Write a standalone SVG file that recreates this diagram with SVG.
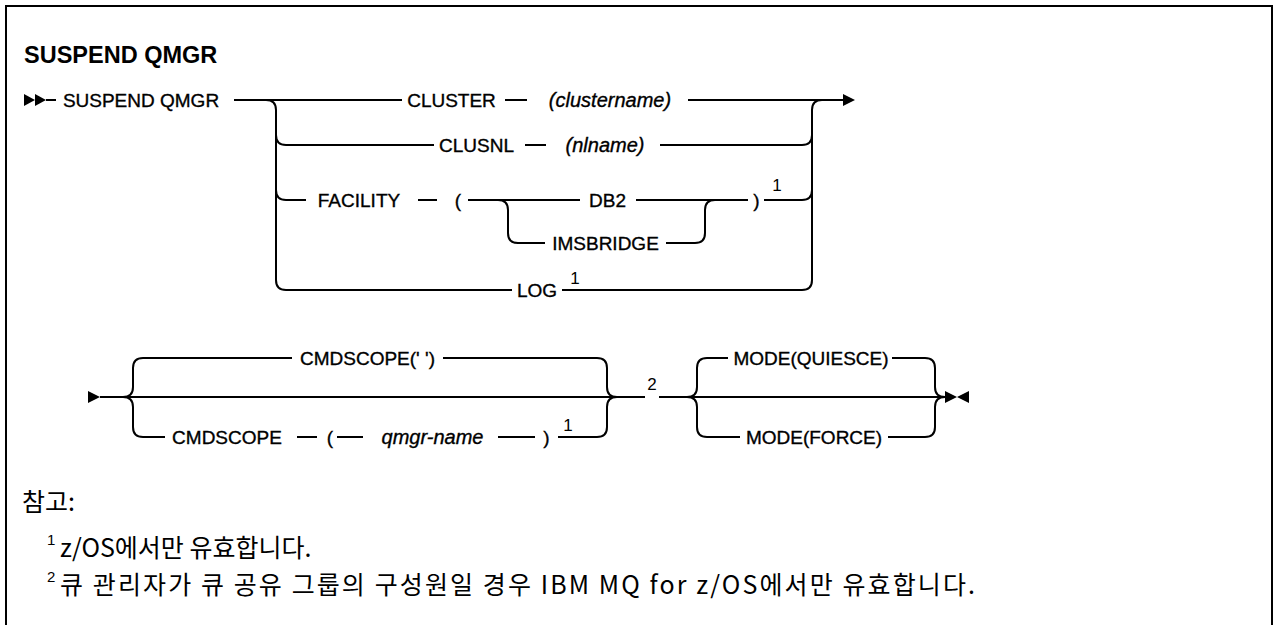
<svg xmlns="http://www.w3.org/2000/svg" width="1274" height="625" viewBox="0 0 1274 625">
<style>
.ln{stroke:#000;stroke-width:2;fill:none}
.ar{fill:#000;stroke:none}
.kw{font-family:"Liberation Sans",Arial,sans-serif;font-size:19px;fill:#000;stroke:#000;stroke-width:0.35px;text-anchor:middle}
.var{font-style:italic;font-size:20px}
.sup{font-family:"Liberation Sans",Arial,sans-serif;font-size:17px;fill:#000;text-anchor:middle}
.title{font-family:"Liberation Sans",Arial,sans-serif;font-size:23.5px;font-weight:bold;fill:#000}
.note{font-family:"Noto Sans CJK KR","Liberation Sans",sans-serif;font-size:25px;fill:#000}
.nsup{font-family:"Liberation Sans",sans-serif;font-size:15px;fill:#000}
</style>
<rect x="6" y="6" width="1266" height="640" fill="#fff" stroke="#000" stroke-width="2"/>
<text class="title" x="24" y="63">SUSPEND QMGR</text>

<g id="connectors">
<polygon class="ar" points="24,94 35,100 24,106"/>
<polygon class="ar" points="35,94 46,100 35,106"/>
<path class="ln" d="M46 100 H56 M234 100 H402 M505 100 H527 M688 100 H843"/>
<polygon class="ar" points="843,94 855,100 843,106"/>
<path class="ln" d="M266 100 Q276 100 276 110 V280 Q276 290 286 290 H512 M562 290 H802 Q812 290 812 280 V110 Q812 100 822 100"/>
<path class="ln" d="M276 135 Q276 145 286 145 H434 M525 145 H546 M660 145 H802 Q812 145 812 135"/>
<path class="ln" d="M276 190 Q276 200 286 200 H306 M418 200 H437 M468 200 H580 M636 200 H748 M764 200 H802 Q812 200 812 190"/>
<path class="ln" d="M498 200 Q508 200 508 210 V233 Q508 243 518 243 H545 M666 243 H695 Q705 243 705 233 V210 Q705 200 715 200"/>

<polygon class="ar" points="88,391 100,397 88,403"/>
<path class="ln" d="M100 397 H645 M659 397 H945"/>
<path class="ln" d="M123 397 Q133 397 133 387 V368 Q133 358 143 358 H292 M123 397 Q133 397 133 407 V427 Q133 437 143 437 H165"/>
<path class="ln" d="M443 358 H597 Q607 358 607 368 V387 Q607 397 617 397"/>
<path class="ln" d="M297 437 H317 M337 437 H363 M498 437 H535 M558 437 H597 Q607 437 607 427 V407 Q607 397 617 397"/>
<path class="ln" d="M687 397 Q697 397 697 387 V368 Q697 358 707 358 H728 M687 397 Q697 397 697 407 V427 Q697 437 707 437 H740"/>
<path class="ln" d="M892 358 H925 Q935 358 935 368 V387 Q935 397 945 397 M888 437 H925 Q935 437 935 427 V407 Q935 397 945 397"/>
<polygon class="ar" points="945,391 957,397 945,403"/>
<polygon class="ar" points="969,391 957,397 969,403"/>
</g>

<g id="suspend"><text class="kw" x="141" y="107">SUSPEND QMGR</text></g>
<g id="cluster"><text class="kw" x="451.5" y="107">CLUSTER</text><text class="kw var" x="610" y="107">(clustername)</text></g>
<g id="clusnl"><text class="kw" x="476.5" y="152">CLUSNL</text><text class="kw var" x="605" y="152">(nlname)</text></g>
<g id="facility"><text class="kw" x="359" y="207">FACILITY</text><text class="kw" x="458" y="207">(</text><text class="kw" x="756.5" y="207">)</text><text class="sup" x="777" y="191">1</text></g>
<g id="db2"><text class="kw" x="607.5" y="207">DB2</text></g>
<g id="imsbridge"><text class="kw" x="605.5" y="250">IMSBRIDGE</text></g>
<g id="log"><text class="kw" x="537" y="297">LOG</text><text class="sup" x="575" y="284">1</text></g>
<g id="cmdscope-blank"><text class="kw" x="367.5" y="365">CMDSCOPE(' ')</text></g>
<g id="cmdscope-qmgr"><text class="kw" x="227" y="444">CMDSCOPE</text><text class="kw" x="330" y="444">(</text><text class="kw var" x="432.5" y="444">qmgr-name</text><text class="kw" x="546.5" y="444">)</text><text class="sup" x="568" y="431">1</text></g>
<g id="note2-ref"><text class="sup" x="652" y="390">2</text></g>
<g id="mode-quiesce"><text class="kw" x="811" y="365">MODE(QUIESCE)</text></g>
<g id="mode-force"><text class="kw" x="814" y="444">MODE(FORCE)</text></g>

<g id="notes">
<text class="note" x="22" y="511">참고:</text>
<text class="nsup" x="47" y="545">1</text>
<text class="note" x="60" y="557">z/OS에서만 유효합니다.</text>
<text class="nsup" x="47" y="582">2</text>
<text class="note" x="60" y="594" textLength="915" lengthAdjust="spacing">큐 관리자가 큐 공유 그룹의 구성원일 경우 IBM MQ for z/OS에서만 유효합니다.</text>
</g>
</svg>
